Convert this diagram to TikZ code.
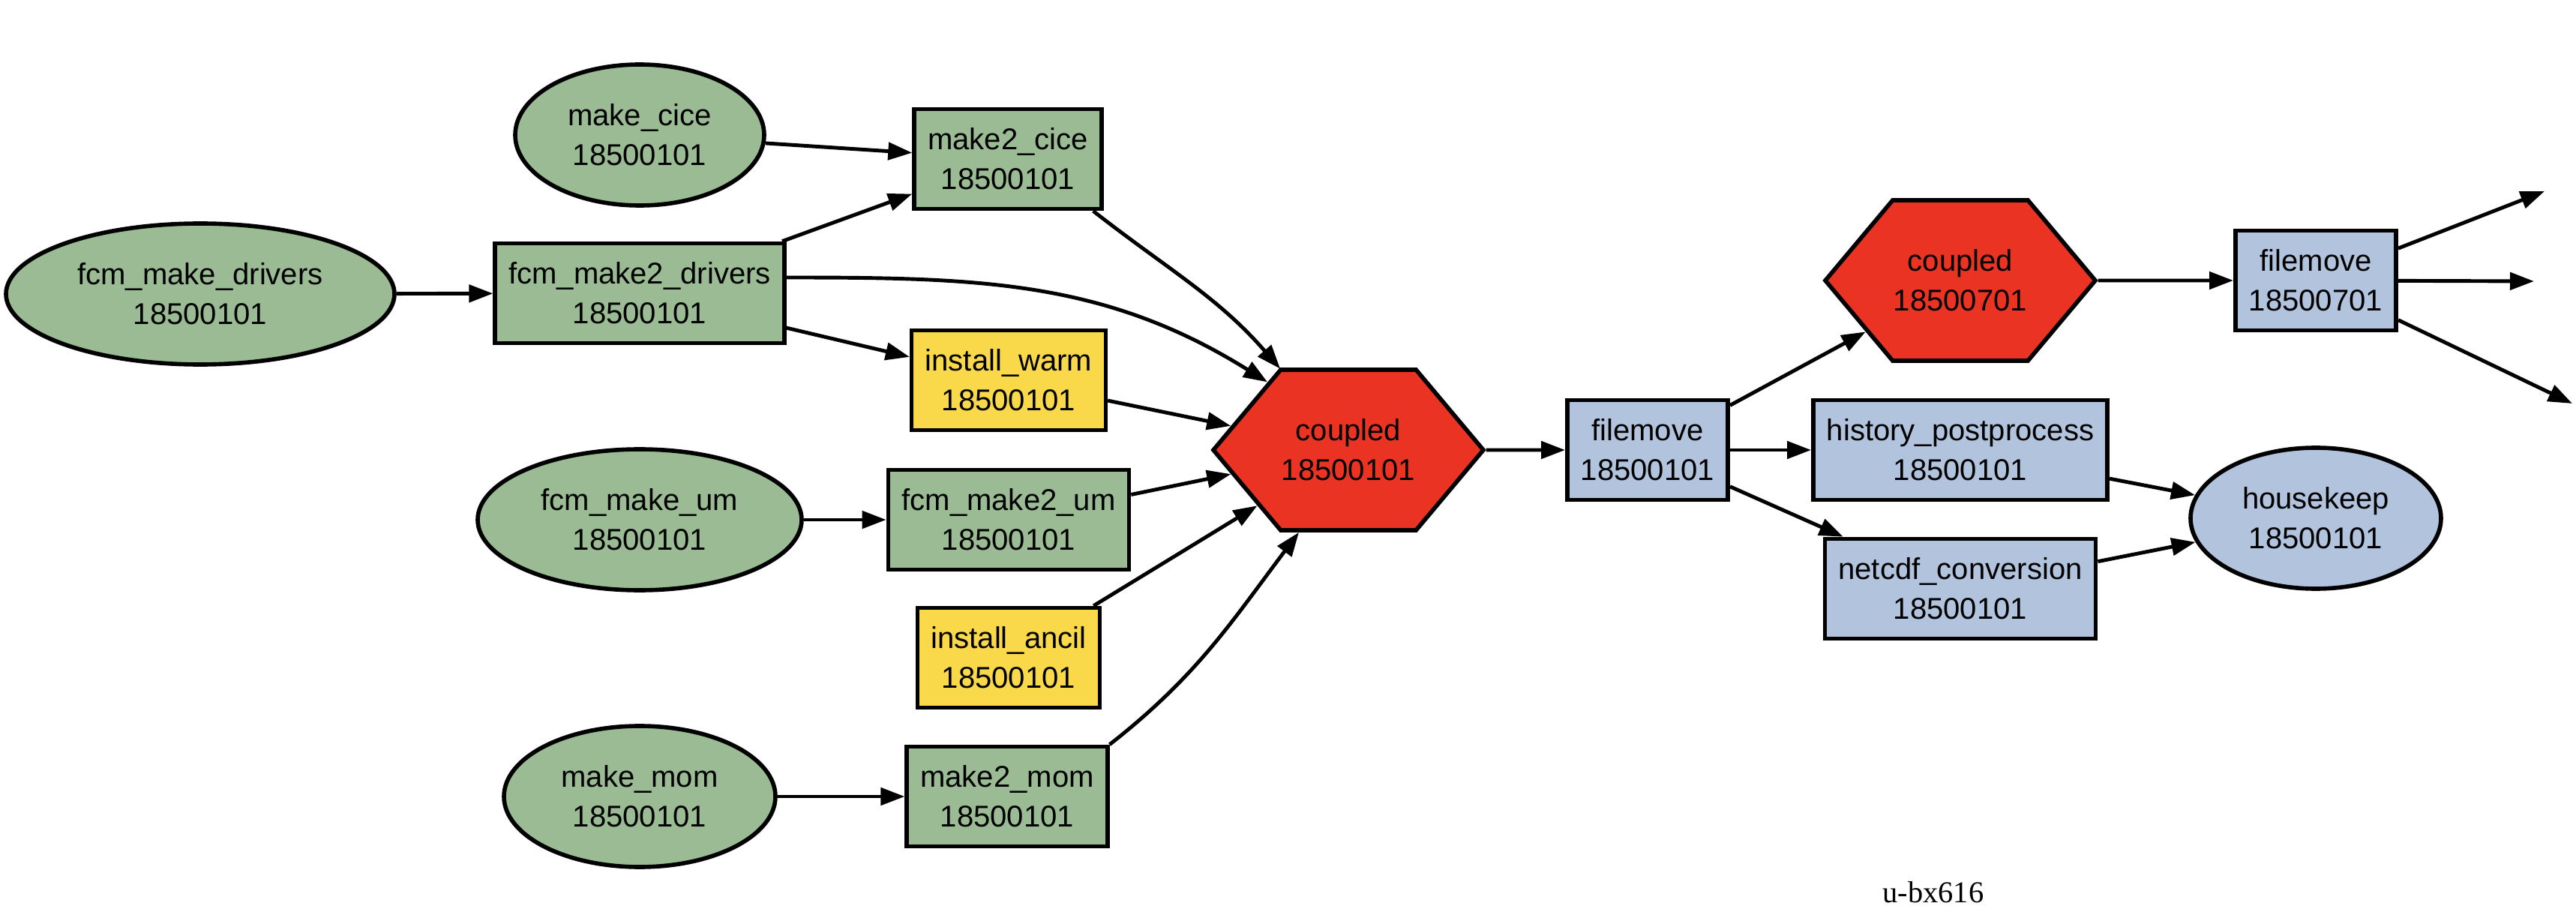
\documentclass[tikz,border=0pt]{standalone}
\usepackage{fontspec}
\setmainfont{Liberation Sans}
\newfontfamily\suitefont{Liberation Serif}
\usepackage{tikz}
\usetikzlibrary{arrows.meta,shapes.geometric,shapes.symbols}

\definecolor{gr}{RGB}{154,187,147}
\definecolor{yl}{RGB}{249,216,74}
\definecolor{rd}{RGB}{234,51,35}
\definecolor{bl}{RGB}{177,195,221}

\begin{document}
\begin{tikzpicture}[x=1mm, y=1mm, inner sep=0pt, font=\fontsize{11.4}{15.1}\selectfont]
    \tikzstyle{tbox}=[rectangle, draw=black, line width=1.6pt, inner xsep=1.8mm, minimum height=13.3mm, align=center]
    \tikzstyle{tell}=[ellipse, draw=black, line width=1.6pt, minimum height=18.8mm, align=center]
    \tikzstyle{thex}=[signal, signal to=east and west, signal pointer angle=100, draw=black, line width=1.6pt, fill=rd, minimum width=36mm, minimum height=21.4mm, align=center]
    \tikzstyle{dep}=[->, >={Triangle[length=3.2mm,width=2.3mm]}, line width=1.4pt]

    \useasboundingbox (0,0) rectangle (343.5,-121.6);

    % build tasks
    \node[tell, fill=gr, minimum width=51.8mm] (mkdrv) at (26.7,-39.2) {fcm\_make\_drivers\\18500101};
    \node[tbox, fill=gr] (m2drv) at (85.3,-39.1) {fcm\_make2\_drivers\\18500101};
    \node[tell, fill=gr, minimum width=33.2mm] (mkcice) at (85.3,-18.0) {make\_cice\\18500101};
    \node[tbox, fill=gr] (m2cice) at (134.4,-21.2) {make2\_cice\\18500101};
    \node[tbox, fill=yl] (warm) at (134.5,-50.7) {install\_warm\\18500101};
    \node[tell, fill=gr, minimum width=43.2mm] (mkum) at (85.3,-69.3) {fcm\_make\_um\\18500101};
    \node[tbox, fill=gr] (m2um) at (134.5,-69.3) {fcm\_make2\_um\\18500101};
    \node[tbox, fill=yl] (ancil) at (134.5,-87.7) {install\_ancil\\18500101};
    \node[tell, fill=gr, minimum width=36.2mm] (mkmom) at (85.3,-106.2) {make\_mom\\18500101};
    \node[tbox, fill=gr] (m2mom) at (134.3,-106.2) {make2\_mom\\18500101};

    % model and post-processing
    \node[thex] (cpl) at (179.8,-60.0) {coupled\\18500101};
    \node[tbox, fill=bl] (fmv) at (219.7,-60.0) {filemove\\18500101};
    \node[thex] (cpl2) at (261.4,-37.4) {coupled\\18500701};
    \node[tbox, fill=bl] (fmv2) at (308.8,-37.4) {filemove\\18500701};
    \node[tbox, fill=bl] (hist) at (261.4,-60.0) {history\_postprocess\\18500101};
    \node[tbox, fill=bl] (nc) at (261.4,-78.5) {netcdf\_conversion\\18500101};
    \node[tell, fill=bl, minimum width=33.4mm] (hk) at (308.8,-69.1) {housekeep\\18500101};

    \coordinate (out1) at (339.3,-25.5);
    \coordinate (out2) at (337.9,-37.5);
    \coordinate (out3) at (343.0,-53.8);

    \node (suite) at (257.8,-119.0) {\suitefont\fontsize{11.5}{13}\selectfont u-bx616};

    \draw[dep] (mkdrv) to (m2drv);
    \draw[dep] (mkcice) to (m2cice);
    \draw[dep] (m2drv) to (m2cice);
    \draw[dep] (m2drv) to (warm);
    \draw[dep] ([yshift=2.1mm] m2drv.east) to[out=0, in=148] (cpl.140);
    \draw[dep] ([xshift=-1.4mm] m2cice.south east) to[out=-38, in=131] (cpl.130);
    \draw[dep] (warm) to (cpl);
    \draw[dep] (mkum) to (m2um);
    \draw[dep] (m2um) to (cpl);
    \draw[dep] (ancil) to (cpl);
    \draw[dep] (mkmom) to (m2mom);
    \draw[dep] (m2mom.north east) to[out=38, in=-127] (cpl.-121);
    \draw[dep] (cpl) to (fmv);
    \draw[dep] (fmv) to (cpl2);
    \draw[dep] (fmv) to (hist);
    \draw[dep] (fmv) to (nc);
    \draw[dep] (cpl2) to (fmv2);
    \draw[dep] (fmv2) to (out1);
    \draw[dep] (fmv2) to (out2);
    \draw[dep] (fmv2) to (out3);
    \draw[dep] (hist) to (hk);
    \draw[dep] (nc) to (hk);
\end{tikzpicture}
\end{document}
